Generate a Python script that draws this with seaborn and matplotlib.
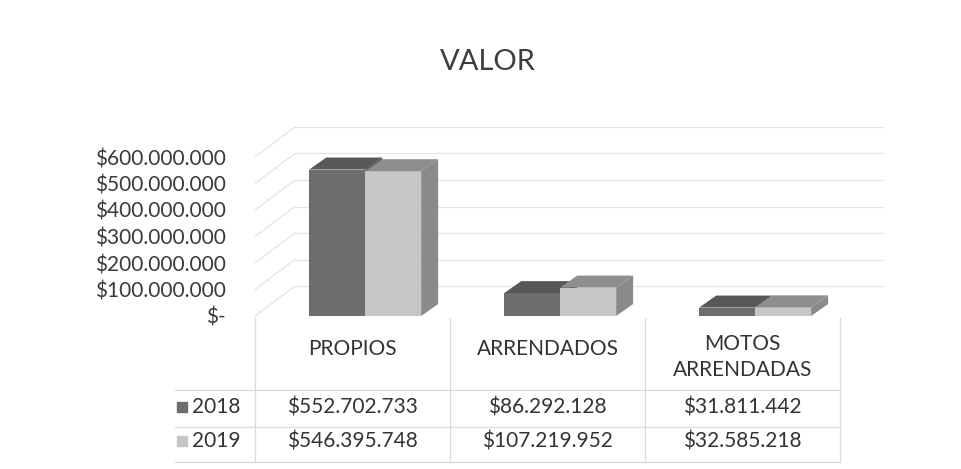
import pandas as pd
import matplotlib.pyplot as plt
import matplotlib.transforms as mtransforms
from matplotlib.patches import Polygon
from matplotlib.lines import Line2D
import seaborn as sns

# Data
categories = ['PROPIOS', 'ARRENDADOS', 'MOTOS\nARRENDADAS']
years = ['2018', '2019']
values_2018 = [552702733, 86292128, 31811442]
values_2019 = [546395748, 107219952, 32585218]
value_labels_2018 = ['$552.702.733', '$86.292.128', '$31.811.442']
value_labels_2019 = ['$546.395.748', '$107.219.952', '$32.585.218']
yticks = [0, 100e6, 200e6, 300e6, 400e6, 500e6, 600e6]
ytick_labels = ['$-', '$100.000.000', '$200.000.000', '$300.000.000',
                '$400.000.000', '$500.000.000', '$600.000.000']


def main():
    df = pd.DataFrame({
        'cat': categories * 2,
        'year': [years[0]] * 3 + [years[1]] * 3,
        'value': values_2018 + values_2019,
    })

    sns.set_theme(style="white")
    plt.rcParams['font.family'] = ['Lato', 'DejaVu Sans']

    W, H = 962, 469
    fig = plt.figure(figsize=(W / 100, H / 100), dpi=100)
    fig.patch.set_facecolor('white')

    # plot area in pixels: left 255, right 884, zero line at 316
    px_per_100m = 26.5
    y_top = 720e6
    ax_h = y_top / 100e6 * px_per_100m
    ax = fig.add_axes([255 / W, (H - 316) / H, (884 - 255) / W, ax_h / H])
    col_w = 195.0

    front = {'2018': '#6d6d6d', '2019': '#c6c6c6'}
    top = {'2018': '#575757', '2019': '#8e8e8e'}
    side = {'2018': '#4f4f4f', '2019': '#8a8a8a'}

    sns.barplot(data=df, x='cat', y='value', hue='year',
                palette=[front['2018'], front['2019']], width=0.574,
                saturation=1, legend=False, ax=ax, linewidth=0)

    # seaborn resets the limits, so set them after plotting
    ax.set_xlim(-0.5, -0.5 + (884 - 255) / col_w)
    ax.set_ylim(0, y_top)

    # fake 3D depth for the bars
    dx = 17 / col_w
    dy = 12 / px_per_100m * 100e6
    shift = 0.065
    for i, p in enumerate(ax.patches):
        yr = years[i // 3]
        z = 2 if yr == '2018' else 3
        p.set_x(p.get_x() + shift)
        p.set_zorder(z)
        x0, w, h = p.get_x(), p.get_width(), p.get_height()
        ax.add_patch(Polygon([(x0, h), (x0 + w, h), (x0 + w + dx, h + dy), (x0 + dx, h + dy)],
                             closed=True, facecolor=top[yr], linewidth=0, zorder=z + 0.1))
        ax.add_patch(Polygon([(x0 + w, 0), (x0 + w + dx, dy), (x0 + w + dx, h + dy), (x0 + w, h)],
                             closed=True, facecolor=side[yr], linewidth=0, zorder=z + 0.1))

    # walls with gridlines
    wdx = 40 / col_w
    wdy = 30 / px_per_100m * 100e6
    xl, xr = ax.get_xlim()
    grid_c = '#e4e4e4'
    for v in yticks:
        ax.plot([xl, xl + wdx], [v, v + wdy], color=grid_c, lw=0.9, zorder=1)
        ax.plot([xl + wdx, xr], [v + wdy, v + wdy], color=grid_c, lw=0.9, zorder=1)

    ax.set_yticks(yticks)
    ax.set_yticklabels(ytick_labels, fontsize=15, color='#3a3a3a')
    ax.tick_params(axis='y', length=0, pad=21)
    ax.set_xticks([])
    ax.set_xlabel('')
    ax.set_ylabel('')
    sns.despine(ax=ax, left=True, bottom=True)

    fig.text(488 / W, 1 - 62 / H, 'VALOR', fontsize=21, color='#3d3d3d',
             ha='center', va='center')

    # data table below the plot
    tr = mtransforms.blended_transform_factory(ax.transData, fig.transFigure)

    def fy(py):
        return 1 - py / H

    line_c = '#dadada'
    for k in range(4):
        xb = -0.5 + k
        fig.add_artist(Line2D([xb, xb], [fy(318), fy(462)], transform=tr,
                              color=line_c, lw=0.9))
    x_left = -0.5 - 80 / col_w
    for py in (390, 427, 462):
        fig.add_artist(Line2D([x_left, 2.5], [fy(py), fy(py)], transform=tr,
                              color=line_c, lw=0.9))

    txt_c = '#333333'
    for i, cat in enumerate(categories):
        ypos = 357 if '\n' in cat else 349
        ax.text(i, fy(ypos), cat, transform=tr, ha='center', va='center',
                fontsize=15, color=txt_c, linespacing=1.35)
        ax.text(i, fy(407), value_labels_2018[i], transform=tr, ha='center',
                va='center', fontsize=15, color=txt_c)
        ax.text(i, fy(441), value_labels_2019[i], transform=tr, ha='center',
                va='center', fontsize=15, color=txt_c)

    for yr, py in ((years[0], 407), (years[1], 441)):
        x_sq = -0.5 - (255 - 182) / col_w
        fig.add_artist(Line2D([x_sq], [fy(py)], transform=tr, marker='s',
                              markersize=7.5, color=front[yr], linestyle='none'))
        ax.text(-0.5 - (255 - 192) / col_w, fy(py), yr, transform=tr,
                ha='left', va='center', fontsize=15, color=txt_c)

    fig.savefig('out.png', dpi=100)


if __name__ == "__main__":
    main()
